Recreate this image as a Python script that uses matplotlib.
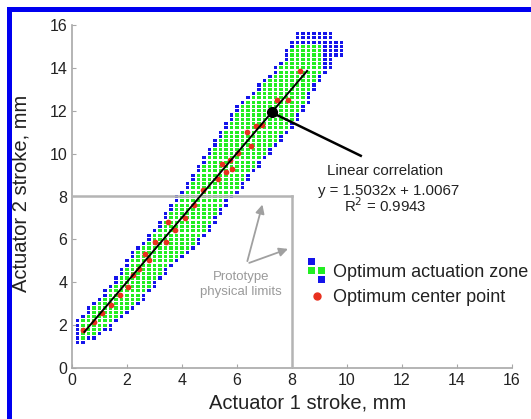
import numpy as np
import matplotlib.pyplot as plt
from matplotlib.patches import Rectangle
from matplotlib.collections import PatchCollection
from matplotlib.lines import Line2D
from matplotlib.legend_handler import HandlerBase

plt.rcParams['font.family'] = ['Liberation Sans', 'DejaVu Sans']

# --- optimum actuation zone, read column by column (grid step 0.2 mm) ---
step = 0.2
col_x = [0.2, 0.4, 0.6, 0.8, 1.0, 1.2, 1.4, 1.6, 1.8, 2.0,
         2.2, 2.4, 2.6, 2.8, 3.0, 3.2, 3.4, 3.6, 3.8, 4.0,
         4.2, 4.4, 4.6, 4.8, 5.0, 5.2, 5.4, 5.6, 5.8, 6.0,
         6.2, 6.4, 6.6, 6.8, 7.0, 7.2, 7.4, 7.6, 7.8, 8.0,
         8.2, 8.4, 8.6, 8.8, 9.0, 9.2, 9.4, 9.6, 9.8]
zone_lo = [1.2, 1.2, 1.4, 1.4, 1.6, 1.8, 1.8, 2.2, 2.4, 2.6,
           2.8, 3.0, 3.2, 3.6, 3.8, 4.2, 4.4, 4.8, 5.0, 5.2,
           5.4, 5.6, 5.8, 6.2, 6.4, 6.8, 7.2, 7.6, 8.0, 8.2,
           8.4, 8.8, 9.2, 9.4, 9.8, 10.0, 10.4, 10.6, 11.0, 11.2,
           11.6, 12.0, 12.4, 13.0, 13.4, 13.8, 14.0, 14.6, 14.6]
zone_hi = [2.2, 2.4, 2.8, 3.0, 3.2, 3.6, 3.8, 4.2, 4.6, 5.0,
           5.4, 5.6, 5.8, 6.2, 6.4, 6.8, 7.2, 7.6, 8.0, 8.2,
           8.6, 9.0, 9.4, 9.8, 10.2, 10.6, 11.0, 11.4, 11.8, 12.2,
           12.4, 12.6, 12.8, 13.2, 13.4, 13.6, 14.0, 14.2, 14.8, 15.2,
           15.6, 15.6, 15.6, 15.6, 15.6, 15.6, 15.6, 15.2, 15.2]
# the green core stops short of the top end of the zone
green_max_x, green_max_y = 9.0, 15.0

# optimum center points
center_x = [0.4, 0.8, 1.1, 1.4, 1.75, 2.05, 2.2, 2.45, 2.65, 2.8,
            3.0, 3.4, 3.5, 3.75, 4.1, 4.45, 4.75, 5.3, 5.45, 5.6,
            5.8, 5.75, 6.05, 6.5, 6.35, 6.7, 6.9, 7.45, 7.85, 8.3]
center_y = [1.75, 2.15, 2.55, 2.95, 3.4, 3.8, 4.35, 4.6, 5.3, 5.05,
            5.9, 5.9, 6.8, 6.45, 7.0, 7.6, 8.3, 8.8, 9.5, 9.15,
            9.3, 9.7, 10.05, 10.35, 11.0, 11.3, 11.35, 12.5, 12.5, 13.85]

# linear fit
fit_slope, fit_icpt, fit_r2 = 1.5032, 1.0067, 0.9943
fit_x = [0.45, 8.55]
marked_x = 7.26

limit = 8  # prototype physical limits, mm

BLUE = '#1414ea'
GREEN = '#22ee22'
RED = '#e8301e'
GREY = '#b4b4b4'
INK = '#222222'

# build grid cells, split into edge (blue) and interior (green)
cells = set()
for i, (lo, hi) in enumerate(zip(zone_lo, zone_hi)):
    for j in range(int(round(lo / step)), int(round(hi / step)) + 1):
        cells.add((i, j))
nbrs = ((1, 0), (-1, 0), (0, 1), (0, -1))
edge = {c for c in cells
        if any((c[0] + a, c[1] + b) not in cells for a, b in nbrs)
        or col_x[c[0]] > green_max_x + 1e-9 or c[1] * step > green_max_y + 1e-9}
core = [c for c in cells if c not in edge]

cw, ch = 0.145, 0.145  # drawn cell size, data units


def cell_patches(cs):
    return [Rectangle((col_x[i] - cw / 2, j * step - ch / 2), cw, ch) for i, j in cs]


fig = plt.figure(figsize=(5.31, 4.19), dpi=100)
ax = fig.add_axes([72 / 531, 51 / 419, 440 / 531, 343 / 419])

ax.add_collection(PatchCollection(cell_patches(edge), facecolor=BLUE, edgecolor='none', zorder=2))
ax.add_collection(PatchCollection(cell_patches(core), facecolor=GREEN, edgecolor='none', zorder=2))

# prototype limits
ax.plot([0, limit], [limit, limit], color=GREY, lw=1.8, zorder=3)
ax.plot([limit, limit], [0, limit], color=GREY, lw=1.8, zorder=3)

ax.scatter(center_x, center_y, s=17, color=RED, linewidths=0, zorder=4)

fx = np.array(fit_x)
ax.plot(fx, fit_slope * fx + fit_icpt, color='black', lw=1.4, zorder=5)
my = fit_slope * marked_x + fit_icpt
ax.plot([marked_x, 10.5], [my, 9.9], color='black', lw=1.8, zorder=5)
ax.plot(marked_x, my, 'o', color='black', ms=7, zorder=6)

ax.text(11.4, 9.02, 'Linear correlation', ha='center', va='baseline', fontsize=10.8, color=INK)
ax.text(11.5, 8.08, f'y = {fit_slope:.4f}x + {fit_icpt:.4f}', ha='center', va='baseline',
        fontsize=10.8, color=INK)
ax.text(11.4, 7.29, f'R$^2$ = {fit_r2:.4f}', ha='center', va='baseline', fontsize=10.8, color=INK)

ax.text(6.15, 3.9, 'Prototype\nphysical limits', ha='center', va='center', fontsize=9.5,
        color='#9a9a9a', linespacing=1.3)
for tx, ty in [(6.95, 7.75), (7.95, 5.6)]:
    ax.annotate('', xy=(tx, ty), xytext=(6.35, 4.86),
                arrowprops=dict(arrowstyle='-|>', color='#a0a0a0', lw=1.3, mutation_scale=13))


class ZoneHandler(HandlerBase):
    def create_artists(self, legend, orig_handle, xdescent, ydescent, width, height, fontsize, trans):
        cxh = width / 2 - xdescent
        cyh = height / 2 - ydescent
        sz = 5.0
        arts = []
        for dx, dy, col in [(-0.5, 1, BLUE), (-0.5, 0, GREEN), (0.5, 0, GREEN), (0.5, -1, BLUE)]:
            arts.append(Rectangle((cxh + dx * 7.2 - sz / 2, cyh + dy * 6.5 - sz / 2), sz, sz,
                                  facecolor=col, edgecolor='none', transform=trans))
        return arts


zone_handle = Rectangle((0, 0), 1, 1)
dot_handle = Line2D([], [], marker='o', ls='none', color=RED, ms=5)
ax.legend([zone_handle, dot_handle], ['Optimum actuation zone', 'Optimum center point'],
          handler_map={zone_handle: ZoneHandler()}, loc='center left',
          bbox_to_anchor=(0.536, 0.242), frameon=False, fontsize=13,
          handlelength=1.0, handletextpad=0.4, labelspacing=0.45,
          borderpad=0, borderaxespad=0, labelcolor=INK)

ax.set_xlim(0, 16)
ax.set_ylim(0, 16)
ax.set_xticks(range(0, 17, 2))
ax.set_yticks(range(0, 17, 2))
ax.spines['top'].set_visible(False)
ax.spines['right'].set_visible(False)
for s in ('left', 'bottom'):
    ax.spines[s].set_color('#a8a8a8')
    ax.spines[s].set_linewidth(1.2)
ax.tick_params(direction='in', length=3, color='#a8a8a8', labelsize=11.5, labelcolor=INK)
ax.set_xlabel('Actuator 1 stroke, mm', fontsize=14.5, color=INK)
ax.set_ylabel('Actuator 2 stroke, mm', fontsize=14.5, color=INK)
ax.xaxis.set_label_coords(0.536, -0.075)
ax.yaxis.set_label_coords(-0.095, 0.51)

# blue frame of the original figure
fig.add_artist(Rectangle((7 / 531, 406.5 / 419), 1, 5.5 / 419, transform=fig.transFigure,
                         facecolor='#0000f0', edgecolor='none'))
fig.add_artist(Rectangle((7 / 531, 0), 5 / 531, 412 / 419, transform=fig.transFigure,
                         facecolor='#0000f0', edgecolor='none'))

fig.savefig('out.png', dpi=100)
